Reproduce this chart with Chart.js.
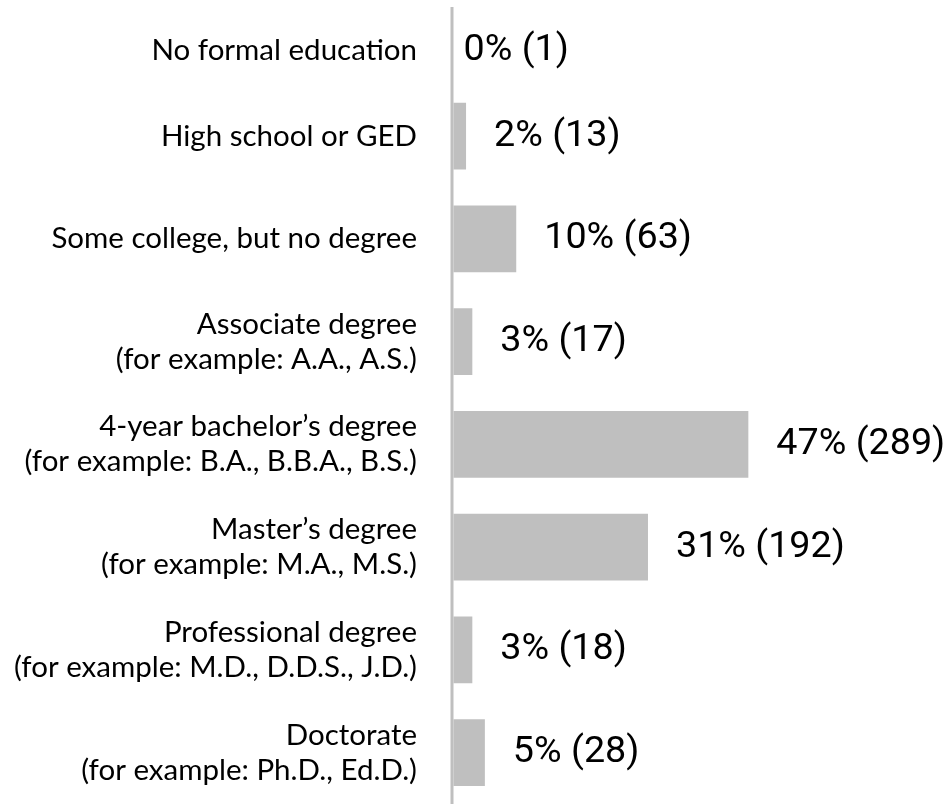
<!DOCTYPE html>
<html><head><meta charset="utf-8">
<script src="https://cdn.jsdelivr.net/npm/chart.js@4"></script>
<style>
html,body{margin:0;padding:0;background:#fff;overflow:hidden;}
#wrap{position:absolute;left:0;top:-18px;width:947px;height:822px;}
</style></head><body>
<div id="wrap"><canvas id="c"></canvas></div>
<script>
const categories = [
  ['No formal education'],
  ['High school or GED'],
  ['Some college, but no degree'],
  ['Associate degree', '(for example: A.A., A.S.)'],
  ['4-year bachelor’s degree', '(for example: B.A., B.B.A., B.S.)'],
  ['Master’s degree', '(for example: M.A., M.S.)'],
  ['Professional degree', '(for example: M.D., D.D.S., J.D.)'],
  ['Doctorate', '(for example: Ph.D., Ed.D.)']
];
const percents = [0, 2, 10, 3, 47, 31, 3, 5];
const counts = [1, 13, 63, 17, 289, 192, 18, 28];

const LABEL_FONT = 'Lato';
const LABEL_SIZE = 29.5;
const LINE_H = 35;

const valueLabels = {
  id: 'valueLabels',
  afterDatasetsDraw(chart) {
    const ctx = chart.ctx;
    const area = chart.chartArea;
    // axis line (starts a little below the top of the plot area, as in the reference)
    ctx.save();
    ctx.strokeStyle = '#bfbfbf';
    ctx.lineWidth = 3;
    ctx.beginPath();
    ctx.moveTo(area.left, area.top + 25);
    ctx.lineTo(area.left, area.bottom + 2);
    ctx.stroke();
    ctx.restore();

    const meta = chart.getDatasetMeta(0);
    ctx.save();
    ctx.font = '37.7px Roboto';
    ctx.fillStyle = '#000';
    ctx.textAlign = 'left';
    ctx.textBaseline = 'middle';
    meta.data.forEach((bar, i) => {
      const shift = i === 0 ? LINE_H / 2 : 0; // first row label sits lower in the reference
      const gap = percents[i] > 0 ? 28 : 10;
      ctx.fillText(percents[i] + '% (' + counts[i] + ')', bar.x + gap, bar.y + shift);
    });
    ctx.restore();
  }
};

new Chart(document.getElementById('c'), {
  type: 'bar',
  data: {
    labels: categories,
    datasets: [{
      data: percents,
      backgroundColor: '#bfbfbf',
      barPercentage: 0.652,
      categoryPercentage: 1
    }]
  },
  options: {
    indexAxis: 'y',
    responsive: true,
    maintainAspectRatio: false,
    animation: false,
    layout: { padding: { left: 0, right: 23, top: 0, bottom: 0 } },
    plugins: { legend: { display: false }, tooltip: { enabled: false } },
    scales: {
      x: { display: false, min: -0.24, max: 75 },
      y: {
        afterFit(scale) {
          scale.width = 452;
          scale.paddingTop = 0;
          scale.paddingBottom = 0;
        },
        grid: { display: false, drawTicks: false },
        border: { display: false },
        ticks: {
          padding: 35,
          color: '#000',
          font: { family: LABEL_FONT, size: LABEL_SIZE, lineHeight: LINE_H / LABEL_SIZE },
          callback(value, index) {
            const lines = categories[index];
            return index === 0 ? [''].concat(lines) : lines;
          }
        }
      }
    }
  },
  plugins: [valueLabels]
});
</script>
</body></html>
